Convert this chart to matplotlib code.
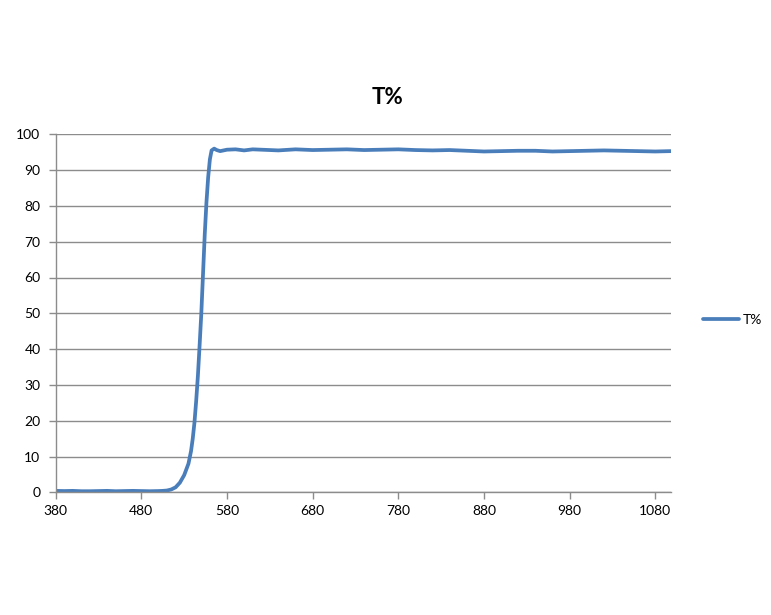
import matplotlib
matplotlib.use("Agg")
import matplotlib.pyplot as plt

wavelength = [380, 390, 400, 410, 420, 430, 440, 450, 460, 470, 480, 490, 500, 505, 510,
              515, 520, 525, 530, 535, 538, 540, 542, 544, 546, 548, 550, 552, 554, 556, 558, 560,
              562, 565, 568, 572, 576, 580, 590, 600, 610, 620, 640, 660, 680, 700, 720,
              740, 760, 780, 800, 820, 840, 860, 880, 900, 920, 940, 960, 980, 1000, 1020,
              1040, 1060, 1080, 1098]
transmission = [0.4, 0.35, 0.4, 0.3, 0.3, 0.35, 0.4, 0.3, 0.35, 0.4, 0.35, 0.3, 0.35, 0.4, 0.5,
                0.8, 1.4, 2.7, 4.8, 8.0, 11.5, 15.0, 19.5, 25.5, 32.5, 41.0, 50.0, 61.0, 72.0, 81.0, 88.0, 93.0,
                95.5, 96.0, 95.6, 95.3, 95.5, 95.7, 95.8, 95.5, 95.8, 95.7, 95.5, 95.8, 95.6, 95.7, 95.8,
                95.6, 95.7, 95.8, 95.6, 95.5, 95.6, 95.4, 95.2, 95.3, 95.4, 95.4, 95.2, 95.3, 95.4, 95.5,
                95.4, 95.3, 95.2, 95.3]
xticks = [380, 480, 580, 680, 780, 880, 980, 1080]
yticks = list(range(0, 101, 10))

W, H = 771, 615
fig = plt.figure(figsize=(W / 100, H / 100), dpi=100)
plt.rcParams['font.family'] = ['Lato', 'DejaVu Sans']

left, right, top, bottom = 55.7, 670.7, 134.3, 492.3
ax = fig.add_axes([left / W, 1 - bottom / H, (right - left) / W, (bottom - top) / H])

line_color = '#4a7ebb'
grid_color = '#8c8c8c'
ax.plot(wavelength, transmission, color=line_color, lw=2.7, label='T%',
        solid_capstyle='round', solid_joinstyle='round')

ax.set_xlim(380, 1098)
ax.set_ylim(0, 100)
ax.set_xticks(xticks)
ax.set_yticks(yticks)
ax.grid(axis='y', color=grid_color, lw=1.0)
ax.set_axisbelow(True)
for s in ['top', 'right']:
    ax.spines[s].set_visible(False)
for s in ['left', 'bottom']:
    ax.spines[s].set_color(grid_color)
    ax.spines[s].set_linewidth(1.0)
ax.tick_params(axis='both', colors=grid_color, length=5, width=1.0, direction='out',
               labelcolor='#000000', labelsize=10)
ax.tick_params(axis='y', pad=6)
ax.tick_params(axis='x', pad=4)

fig.text(0.502, 1 - 97 / H, 'T%', ha='center', va='center', fontsize=16, fontweight='bold')

handles, labels = ax.get_legend_handles_labels()
fig.legend(handles, labels, loc='center left', bbox_to_anchor=(690 / W, 1 - 320 / H),
           frameon=False, fontsize=10, handlelength=2.6, handletextpad=0.3)

fig.savefig('out.png', dpi=100)
